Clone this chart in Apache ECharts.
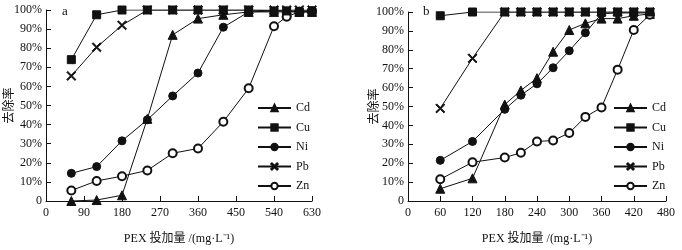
<!DOCTYPE html>
<html>
<head>
<meta charset="utf-8">
<script src="https://cdn.jsdelivr.net/npm/echarts@6/dist/echarts.min.js"></script>
<style>
  html, body { margin: 0; padding: 0; background: #fff; }
  #chart { width: 682px; height: 250px; }
</style>
</head>
<body>
<div id="chart"></div>
<script>
// dose (mg/L) and removal rate (%)
const metals = ['Cd', 'Cu', 'Ni', 'Pb', 'Zn']

const doseA = [60, 120, 180, 240, 300, 360, 420, 480, 540, 570, 600, 630]
const cdA = [0, 0.5, 3, 43, 87, 95.5, 97.5, 99, 99, 99, 99, 99]
const cuA = [74, 97.5, 100, 100, 100, 100, 100, 100, 99.5, 99.5, 99, 99]
const niA = [14.5, 18, 31.5, 42.5, 55, 67, 91, 99, 99.5, 99.5, 99.5, 99.5]
const pbA = [65.5, 80.5, 92, 100, 100, 100, 100, 100, 100, 100, 100, 100]
const znA = [5.5, 10.5, 13, 16, 25, 27.5, 41.5, 59, 91.5, 96.5, 99, 99.5]

const doseB = [60, 120, 180, 210, 240, 270, 300, 330, 360, 390, 420, 450]
const cdB = [6.5, 12, 51, 58.5, 65, 79, 90.5, 94, 96.5, 96.5, 98, 99]
const cuB = [98, 100, 100, 100, 100, 100, 100, 100, 100, 100, 100, 100]
const niB = [21.5, 31.5, 48.5, 56, 62, 70.5, 79.5, 89, 99, 99.5, 99.5, 99.5]
const pbB = [49, 75.5, 100, 100, 100, 100, 100, 100, 100, 100, 100, 100]
const znB = [11.5, 20.5, 23, 25.5, 31.5, 32, 36, 44.5, 49.5, 69.5, 90.5, 98.5]

const xMaxA = 630, xStepA = 90
const xMaxB = 480, xStepB = 60

const FONT = '"Liberation Serif", "Noto Sans CJK SC", serif'
const INK = '#111'

const crossPath = 'path://M0,1L1,0L5,4L9,0L10,1L6,5L10,9L9,10L5,6L1,10L0,9L4,5Z'
const symbols = {
  Cd: 'triangle', Cu: 'rect', Ni: 'circle', Pb: crossPath, Zn: 'emptyCircle'
}
const sizes = { Cd: 9, Cu: 8, Ni: 8, Pb: 9, Zn: 8 }

function pairs(xs, ys) {
  return xs.map((x, i) => [x, ys[i]])
}

function makeAxes(gridIndex, xMax, xStep, nameGapY) {
  const common = {
    gridIndex,
    axisLine: { lineStyle: { color: INK, width: 1 } },
    axisTick: { inside: true, length: 5, lineStyle: { color: INK } },
    splitLine: { show: false },
    axisLabel: { color: INK, fontFamily: FONT, fontSize: 12 },
    nameTextStyle: { color: INK, fontFamily: FONT, fontSize: 12 },
    nameMoveOverlap: false,
  }
  return {
    x: {
      ...common,
      type: 'value',
      min: 0, max: xMax, interval: xStep,
      axisLabel: { ...common.axisLabel, margin: 6 },
      name: 'PEX 投加量 /(mg·L⁻¹)',
      nameLocation: 'middle',
      nameGap: 32,
    },
    y: {
      ...common,
      type: 'value',
      min: 0, max: 100, interval: 10,
      axisLabel: {
        ...common.axisLabel,
        margin: 4,
        formatter: v => (v === 0 ? '0' : v + '%'),
      },
      name: '去除率',
      nameLocation: 'middle',
      nameRotate: 90,
      nameGap: nameGapY,
    },
  }
}

const axA = makeAxes(0, xMaxA, xStepA, 30)
const axB = makeAxes(1, xMaxB, xStepB, 27)

function seriesFor(idx, xs, rows) {
  return metals.map((m, i) => ({
    name: m,
    type: 'line',
    xAxisIndex: idx,
    yAxisIndex: idx,
    data: pairs(xs, rows[i]),
    symbol: symbols[m],
    symbolSize: sizes[m],
    z: m === 'Cu' ? 4 : 3,
    lineStyle: { color: INK, width: 1 },
    itemStyle: { color: INK, borderColor: INK, borderWidth: 1 },
    emphasis: { disabled: true },
    animation: false,
  }))
}

const legendBase = {
  orient: 'vertical',
  itemWidth: 33,
  itemHeight: 8,
  itemGap: 7.5,
  selectedMode: false,
  textStyle: { color: INK, fontFamily: FONT, fontSize: 12 },
  data: metals,
}

const chart = echarts.init(document.getElementById('chart'), null, { renderer: 'canvas' })
chart.setOption({
  backgroundColor: '#fff',
  animation: false,
  grid: [
    { left: 46, top: 10, width: 266, height: 198 },
    { left: 408, top: 12, width: 258, height: 196 },
  ],
  xAxis: [axA.x, axB.x],
  yAxis: [axA.y, axB.y],
  legend: [
    { ...legendBase, left: 252, top: 97 },
    { ...legendBase, left: 608, top: 97 },
  ],
  graphic: [
    { type: 'text', left: 62, top: 5, style: { text: 'a', font: '13px ' + FONT, fill: INK } },
    { type: 'text', left: 423, top: 5, style: { text: 'b', font: '13px ' + FONT, fill: INK } },
  ],
  series: [
    ...seriesFor(0, doseA, [cdA, cuA, niA, pbA, znA]),
    ...seriesFor(1, doseB, [cdB, cuB, niB, pbB, znB]),
  ],
})
</script>
</body>
</html>
